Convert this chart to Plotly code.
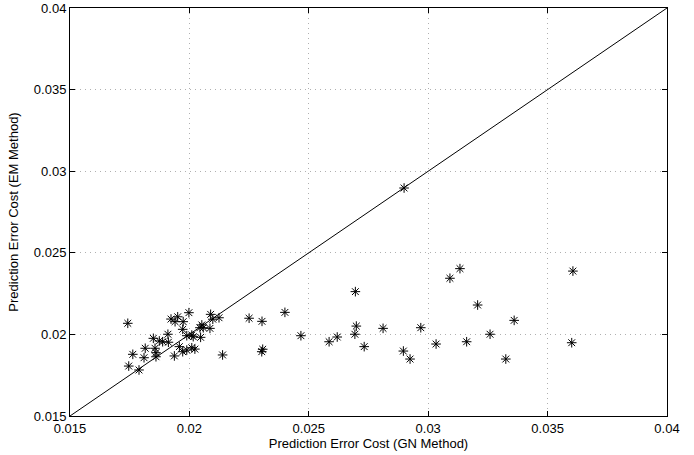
import plotly.graph_objects as go

gn_cost = [0.01742, 0.01746, 0.01763, 0.01789, 0.0181, 0.01815, 0.01849, 0.01856, 0.0186, 0.0186,
           0.01874, 0.01888, 0.01912, 0.0191, 0.01923, 0.01951, 0.0194, 0.01974, 0.01972, 0.01998,
           0.01937, 0.01958, 0.01972, 0.01989, 0.0201, 0.02023, 0.01989, 0.0201, 0.02016, 0.02047,
           0.02052, 0.02058, 0.02044, 0.02086, 0.02089, 0.02098, 0.02124, 0.02139, 0.0225, 0.02304,
           0.024, 0.02467, 0.02307, 0.02303, 0.02585, 0.02619, 0.02695, 0.02699, 0.02693, 0.02732,
           0.02811, 0.02896, 0.02924, 0.02899, 0.02969, 0.03033, 0.03091, 0.03133, 0.03161, 0.03207,
           0.03259, 0.03325, 0.0336, 0.03606, 0.03601]
em_cost = [0.02068, 0.01806, 0.01878, 0.01782, 0.01857, 0.01915, 0.01976, 0.01915, 0.01888, 0.01863,
           0.0196, 0.01955, 0.01952, 0.02001, 0.02094, 0.02108, 0.02078, 0.02078, 0.02031, 0.02133,
           0.01868, 0.01925, 0.01894, 0.01904, 0.01918, 0.0191, 0.01992, 0.01996, 0.01986, 0.01982,
           0.02058, 0.02041, 0.02041, 0.02037, 0.02123, 0.02093, 0.02102, 0.01874, 0.02099, 0.0208,
           0.02135, 0.01992, 0.01909, 0.01894, 0.01955, 0.01984, 0.02262, 0.02051, 0.02001, 0.01925,
           0.02037, 0.01898, 0.01849, 0.02897, 0.02041, 0.01941, 0.02344, 0.02403, 0.01955, 0.0218,
           0.02001, 0.01849, 0.02086, 0.02388, 0.01949]

diag = [0.015, 0.04]
ticks = [0.015, 0.02, 0.025, 0.03, 0.035, 0.04]
tick_text = ["0.015", "0.02", "0.025", "0.03", "0.035", "0.04"]

fig = go.Figure()
fig.add_trace(go.Scatter(x=diag, y=diag, mode="lines",
                         line=dict(color="black", width=1), showlegend=False))
fig.add_trace(go.Scatter(x=gn_cost, y=em_cost, mode="markers",
                         marker=dict(symbol="asterisk-open", size=8, color="black",
                                     line=dict(color="black", width=1)),
                         showlegend=False))

axis_common = dict(
    range=[0.015, 0.04], tickvals=ticks, ticktext=tick_text,
    showline=True, linecolor="black", linewidth=1, mirror="ticks",
    ticks="inside", ticklen=5, tickcolor="black",
    showgrid=True, gridcolor="#b0b0b0", griddash="1px,4px", gridwidth=1,
    zeroline=False, tickfont=dict(size=13, color="black"), automargin=False,
)

fig.update_layout(
    width=694, height=455,
    margin=dict(l=70, r=27, t=8, b=39),
    paper_bgcolor="white", plot_bgcolor="white",
    font=dict(family="Liberation Sans, Arial, sans-serif", size=13, color="black"),
    xaxis=dict(**axis_common, title=dict(text="Prediction Error Cost (GN Method)",
                                         font=dict(size=13), standoff=3)),
    yaxis=dict(**axis_common, title=dict(text="Prediction Error Cost (EM Method)",
                                         font=dict(size=13), standoff=12)),
)

fig.write_html("out.html", config={"displayModeBar": False},
               post_script="document.body.style.margin='0';")
